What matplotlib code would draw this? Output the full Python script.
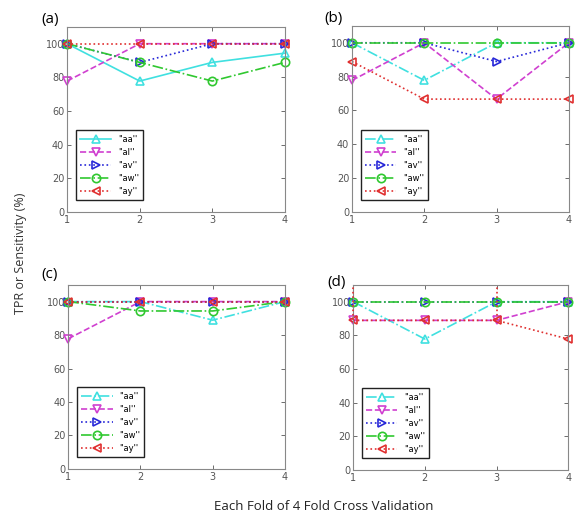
import numpy as np
import matplotlib.pyplot as plt

# ---------- data (TPR %, per fold) ----------
folds = [1, 2, 3, 4]
labels = ["''aa''", "''al''", "''av''", "''aw''", "''ay''"]

a_aa = [100, 77.8, 88.9, 94.4]
a_al = [77.8, 100, 100, 100]
a_av = [100, 88.9, 100, 100]
a_aw = [100, 88.9, 77.8, 88.9]
a_ay = [100, 100, 100, 100]

b_aa = [100, 77.8, 100, 100]
b_al = [77.8, 100, 66.7, 100]
b_av = [100, 100, 88.9, 100]
b_aw = [100, 100, 100, 100]
b_ay = [88.9, 66.7, 66.7, 66.7]

c_aa = [100, 100, 88.9, 100]
c_al = [77.8, 100, 100, 100]
c_av = [100, 100, 100, 100]
c_aw = [100, 94.4, 94.4, 100]
c_ay = [100, 100, 100, 100]

d_aa = [100, 77.8, 100, 100]
d_al = [88.9, 88.9, 88.9, 100]
d_av = [100, 100, 100, 100]
d_aw = [100, 100, 100, 100]
d_ay = [88.9, 88.9, 88.9, 77.8]
d_ay_spikes = [1, 3]   # odd vertical red dotted segments in panel (d)

panels = [
    ("(a)", [a_aa, a_al, a_av, a_aw, a_ay], [0.116, 0.590, 0.377, 0.358], "-"),
    ("(b)", [b_aa, b_al, b_av, b_aw, b_ay], [0.609, 0.590, 0.375, 0.360], "-."),
    ("(c)", [c_aa, c_al, c_av, c_aw, c_ay], [0.118, 0.093, 0.375, 0.356], "-."),
    ("(d)", [d_aa, d_al, d_av, d_aw, d_ay], [0.611, 0.091, 0.372, 0.358], "-."),
]
label_pos = {"(a)": (0.072, 0.963), "(b)": (0.562, 0.965), "(c)": (0.072, 0.470), "(d)": (0.567, 0.453)}

colors = ["#40e0e0", "#d040d0", "#2828d8", "#30c830", "#e03030"]
markers = ["^", "v", ">", "o", "<"]

fig = plt.figure(figsize=(5.78, 5.17), dpi=100)

for name, series, rect, aa_style in panels:
    ax = fig.add_axes(rect)
    styles = [aa_style, "--", ":", "-.", ":"]
    for vals, lab, col, mk, ls in zip(series, labels, colors, markers, styles):
        ax.plot(folds, vals, linestyle=ls, color=col, marker=mk, markersize=6,
                markerfacecolor="none", markeredgewidth=1.2, linewidth=1.2,
                label=lab, clip_on=False)
    if name == "(d)":
        ax.vlines(d_ay_spikes, 88.9, 110, colors=colors[4], linestyles=":",
                  linewidth=1.2, clip_on=False, zorder=3)
    ax.set_xlim(1, 4)
    ax.set_ylim(0, 110)
    ax.set_xticks(folds)
    ax.set_yticks([0, 20, 40, 60, 80, 100])
    ax.tick_params(direction="in", top=True, right=True, labelsize=7, pad=2,
                   length=3, width=0.6, colors="#555555")
    for sp in ax.spines.values():
        sp.set_color("#888888")
        sp.set_linewidth(0.8)
    leg = ax.legend(loc="lower left", fontsize=6, handlelength=3.8, borderpad=0.5,
                    labelspacing=0.5, fancybox=False, framealpha=1,
                    bbox_to_anchor=(0.02, 0.04))
    leg.get_frame().set_edgecolor("#222222")
    leg.get_frame().set_linewidth(1.0)
    fig.text(*label_pos[name], name, fontsize=11, family="Open Sans", ha="left", va="center")

fig.text(0.035, 0.51, "TPR or Sensitivity (%)", rotation=90, ha="center", va="center",
         fontsize=9, family="Open Sans", color="#333333")
fig.text(0.56, 0.02, "Each Fold of 4 Fold Cross Validation", ha="center", va="center",
         fontsize=9.5, family="Open Sans", color="#222222")

fig.savefig("out.png", dpi=100)
